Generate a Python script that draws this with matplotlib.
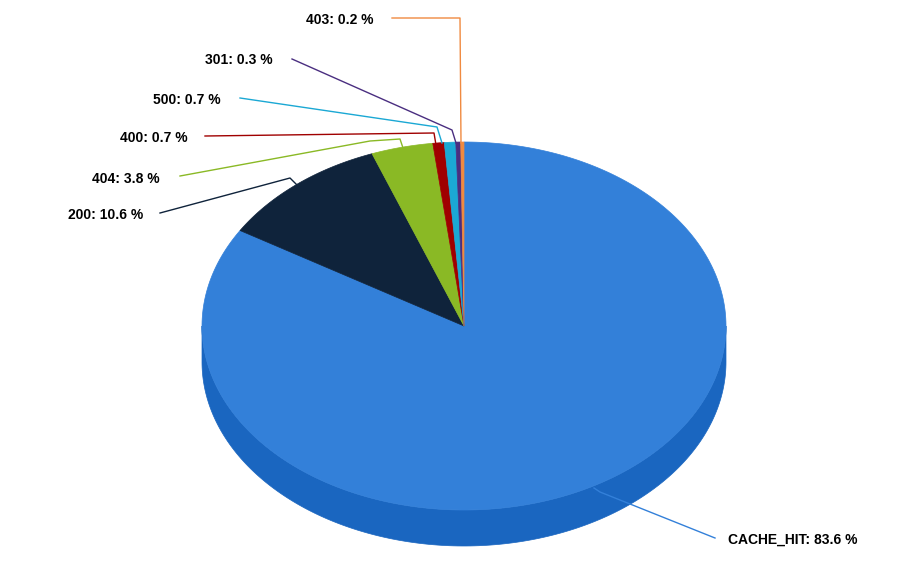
import numpy as np
import matplotlib.pyplot as plt
from matplotlib.patches import Polygon

labels = ["CACHE_HIT", "200", "404", "400", "500", "301", "403"]
values = [83.6, 10.6, 3.8, 0.7, 0.7, 0.3, 0.2]
colors = ["#3380d9", "#0f233b", "#8ab925", "#a00000", "#1ba8d4", "#4a2e80", "#f08a40"]
sides = ["#1a66c0", "#08172a", "#6f9a16", "#780000", "#1488ad", "#36205f", "#c8692a"]

# label text anchor (right/left x, y) and leader polyline, in pixels
label_pos = [(728, 540, "left"), (143, 215, "right"), (160, 179, "right"), (188, 138, "right"),
             (221, 100, "right"), (273, 60, "right"), (373, 20, "right")]
leaders = [[(715, 538), (600, 492), (594, 488)],
           [(160, 213), (290, 178), (297, 185)],
           [(180, 176), (370, 141), (400, 139), (403, 148)],
           [(205, 136), (434, 133), (436, 145)],
           [(240, 98), (437, 127), (442, 143)],
           [(292, 59), (452, 130), (456, 143)],
           [(392, 18), (460, 18), (461, 143)]]

cx, cy, rx, ry, depth = 464, 326, 262, 184, 36

fig = plt.figure(figsize=(9.24, 5.88), dpi=100)
ax = fig.add_axes([0, 0, 1, 1])
ax.set_xlim(0, 924)
ax.set_ylim(588, 0)
ax.axis("off")

def pt(t, dy=0):
    return (cx + rx * np.sin(t), cy - ry * np.cos(t) + dy)

total = sum(values)
bounds = np.concatenate([[0], np.cumsum(values) / total * 2 * np.pi])

# side walls (front half only)
for i in range(len(values)):
    a, b = max(bounds[i], np.pi / 2), min(bounds[i + 1], 3 * np.pi / 2)
    if b <= a:
        continue
    ts = np.linspace(a, b, 200)
    top = [pt(t) for t in ts]
    bot = [pt(t, depth) for t in ts[::-1]]
    ax.add_patch(Polygon(top + bot, closed=True, fc=sides[i], ec=sides[i], lw=0.5))

# top faces
for i in range(len(values)):
    ts = np.linspace(bounds[i], bounds[i + 1], max(3, int(400 * values[i] / total)))
    poly = [(cx, cy)] + [pt(t) for t in ts]
    ax.add_patch(Polygon(poly, closed=True, fc=colors[i], ec=colors[i], lw=0.5))

for i in range(len(values)):
    xs, ys = zip(*leaders[i])
    ax.plot(xs, ys, color=colors[i], lw=1)
    x, y, ha = label_pos[i]
    ax.text(x, y, f"{labels[i]}: {values[i]} %", ha=ha, va="center",
            fontsize=10, fontweight="bold", color="black", family="Liberation Sans")

fig.savefig("out.png", dpi=100)
